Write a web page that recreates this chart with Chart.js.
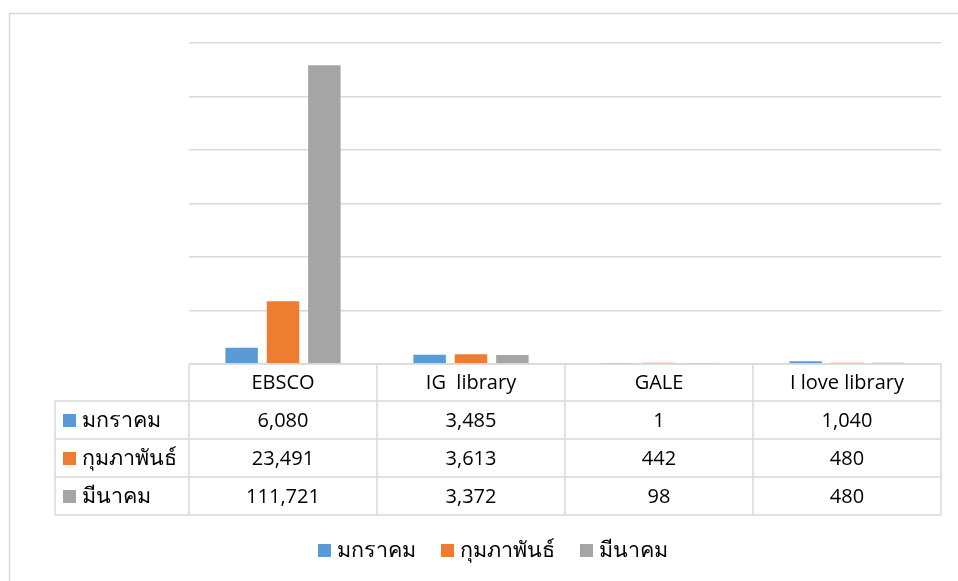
<!DOCTYPE html>
<html>
<head>
<meta charset="utf-8">
<script src="https://cdn.jsdelivr.net/npm/chart.js@4.4.1/dist/chart.umd.min.js"></script>
<style>
  html, body { margin: 0; padding: 0; background: #fff; }
  #wrap { width: 958px; height: 581px; position: relative; }
</style>
</head>
<body>
<div id="wrap"><canvas id="c" width="958" height="581"></canvas></div>
<script>
const categories = ['EBSCO', 'IG  library', 'GALE', 'I love library'];
const seriesNames = ['มกราคม', 'กุมภาพันธ์', 'มีนาคม'];
const janValues = [6080, 3485, 1, 1040];
const febValues = [23491, 3613, 442, 480];
const marValues = [111721, 3372, 98, 480];
const seriesColors = ['#5b9bd5', '#ed7d31', '#a5a5a5'];
const yMax = 120000;
const yStep = 20000;

const FONT = "'Open Sans', 'Noto Sans', 'DejaVu Sans', sans-serif";
const GRID = '#d9d9d9';
const NUM_FONT = '20px ' + FONT;
const THAI_FONT = '21.5px ' + FONT;

const tablePlugin = {
  id: 'dataTable',
  afterDraw(chart) {
    const ctx = chart.ctx;
    const x = chart.scales.x;
    const area = chart.chartArea;
    const n = categories.length;
    const catW = (area.right - area.left) / n;
    const headerH = 37, rowH = 38;
    const top = area.bottom;
    const labelLeft = 55;
    ctx.save();
    // outer chart border
    ctx.strokeStyle = GRID;
    ctx.lineWidth = 1.5;
    ctx.beginPath();
    ctx.moveTo(9.5, 581);
    ctx.lineTo(9.5, 13.5);
    ctx.lineTo(958, 13.5);
    ctx.stroke();

    // table grid
    const rows = chart.data.datasets.length;
    const bottom = top + headerH + rows * rowH;
    ctx.beginPath();
    ctx.moveTo(area.left, top); ctx.lineTo(area.right, top);
    for (let r = 0; r <= rows; r++) {
      const yy = top + headerH + r * rowH;
      ctx.moveTo(labelLeft, yy); ctx.lineTo(area.right, yy);
    }
    for (let i = 0; i <= n; i++) {
      const xx = x.getPixelForValue(0) - catW / 2 + i * catW;
      ctx.moveTo(xx, top); ctx.lineTo(xx, bottom);
    }
    ctx.moveTo(labelLeft, top + headerH); ctx.lineTo(labelLeft, bottom);
    ctx.stroke();

    // header text
    ctx.fillStyle = '#000';
    ctx.font = NUM_FONT;
    ctx.textAlign = 'center';
    ctx.textBaseline = 'middle';
    categories.forEach((c, i) => {
      ctx.fillText(c, x.getPixelForValue(i), top + headerH / 2 + 1);
    });
    // rows
    chart.data.datasets.forEach((ds, r) => {
      const cy = top + headerH + r * rowH + rowH / 2 + 1;
      ctx.font = NUM_FONT;
      ctx.fillStyle = '#000';
      ds.data.forEach((v, i) => {
        ctx.textAlign = 'center';
        ctx.fillText(v.toLocaleString('en-US'), x.getPixelForValue(i), cy);
      });
      ctx.fillStyle = ds.backgroundColor;
      ctx.fillRect(63, cy - 7, 13, 13);
      ctx.fillStyle = '#000';
      ctx.textAlign = 'left';
      ctx.font = THAI_FONT;
      ctx.fillText(ds.label, 82, cy);
    });

    // legend
    ctx.font = THAI_FONT;
    const legendY = 551;
    let items = chart.data.datasets.map(ds => ({ label: ds.label, color: ds.backgroundColor, w: 13 + 6 + ctx.measureText(ds.label).width }));
    const gap = 25;
    let lx = 318;
    items.forEach(it => {
      ctx.fillStyle = it.color;
      ctx.fillRect(lx, legendY - 7, 13, 13);
      ctx.fillStyle = '#000';
      ctx.textAlign = 'left';
      ctx.fillText(it.label, lx + 19, legendY);
      lx += it.w + gap;
    });
    ctx.restore();
  }
};

new Chart(document.getElementById('c'), {
  type: 'bar',
  data: {
    labels: categories,
    datasets: [
      { label: seriesNames[0], data: janValues, backgroundColor: seriesColors[0] },
      { label: seriesNames[1], data: febValues, backgroundColor: seriesColors[1] },
      { label: seriesNames[2], data: marValues, backgroundColor: seriesColors[2] }
    ]
  },
  options: {
    responsive: false,
    animation: false,
    devicePixelRatio: 1,
    layout: { padding: { left: 189, right: 17, top: 43, bottom: 217 } },
    datasets: { bar: { categoryPercentage: 0.66, barPercentage: 0.785 } },
    plugins: { legend: { display: false }, tooltip: { enabled: false } },
    scales: {
      x: { display: false },
      y: {
        min: 0, max: yMax,
        ticks: { display: false, stepSize: yStep },
        grid: { color: GRID, lineWidth: 1.5, drawTicks: false },
        border: { display: false }
      }
    }
  },
  plugins: [tablePlugin]
});
</script>
</body>
</html>
